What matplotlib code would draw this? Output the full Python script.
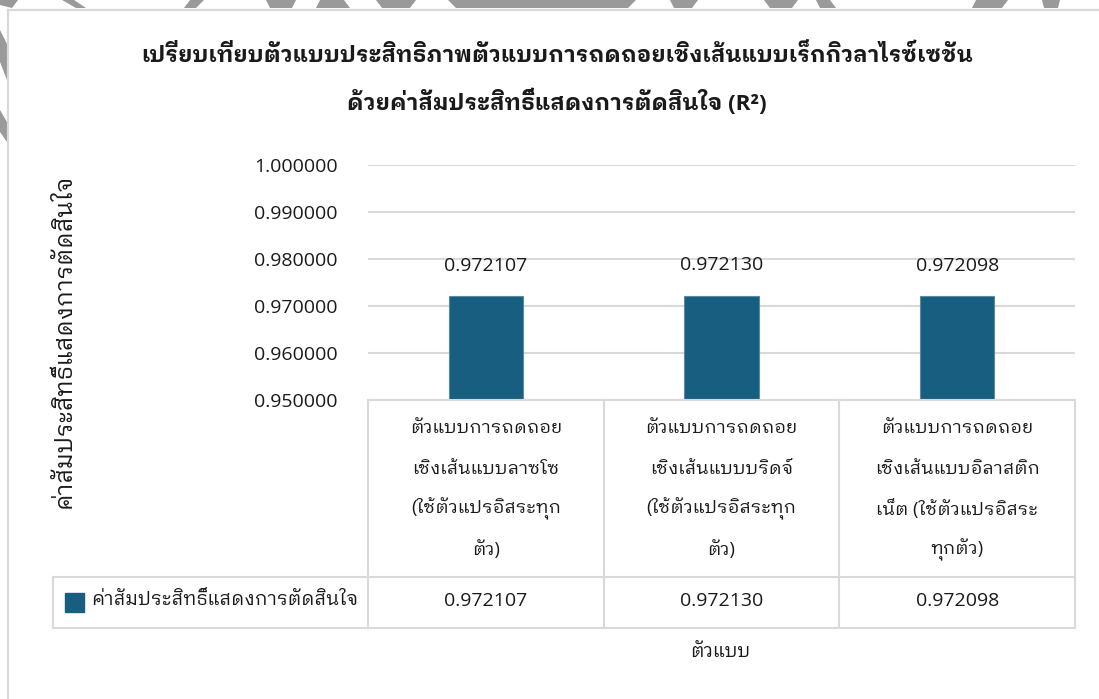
import matplotlib
matplotlib.use("Agg")
import matplotlib.pyplot as plt
import matplotlib.transforms as mtransforms
from matplotlib.lines import Line2D
from matplotlib.patches import Rectangle, Polygon
import numpy as np

plt.rcParams['font.family'] = ['Open Sans', 'IBM Plex Sans Thai Looped']

# data
models = [
    "ตัวแบบการถดถอย\nเชิงเส้นแบบลาซโซ\n(ใช้ตัวแปรอิสระทุก\nตัว)",
    "ตัวแบบการถดถอย\nเชิงเส้นแบบบริดจ์\n(ใช้ตัวแปรอิสระทุก\nตัว)",
    "ตัวแบบการถดถอย\nเชิงเส้นแบบอิลาสติก\nเน็ต (ใช้ตัวแปรอิสระ\nทุกตัว)",
]
r2 = [0.972107, 0.972130, 0.972098]
series_name = "ค่าสัมประสิทธิ์แสดงการตัดสินใจ"
title_lines = [
    "เปรียบเทียบตัวแบบประสิทธิภาพตัวแบบการถดถอยเชิงเส้นแบบเร็กกิวลาไรซ์เซชัน",
    "ด้วยค่าสัมประสิทธิ์แสดงการตัดสินใจ (R²)",
]
x_title = "ตัวแบบ"
y_title = "ค่าสัมประสิทธิ์แสดงการตัดสินใจ"

W, H = 1099, 699
bar_color = "#175e80"
line_color = "#d9d9d9"
text_color = "#1a1a1a"


def fx(x):
    return x / W


def fy(y):
    return 1 - y / H


fig = plt.figure(figsize=(W / 100, H / 100), dpi=100)
fig.patch.set_facecolor("white")

# bits of the page seal peeking out above / left of the frame
seal = [
    [(0, 0), (18, 0), (12, 8), (0, 5)],
    [(62, 0), (74, 0), (86, 8), (76, 8)],
    [(190, 0), (204, 0), (196, 8), (184, 8)],
    [(266, 0), (296, 0), (292, 8), (270, 8)],
    [(320, 0), (344, 0), (350, 8), (316, 8)],
    [(376, 0), (416, 0), (410, 8), (382, 8)],
    [(448, 0), (636, 0), (628, 8), (456, 8)],
    [(670, 0), (698, 0), (692, 8), (674, 8)],
    [(764, 0), (798, 0), (792, 8), (770, 8)],
    [(816, 0), (830, 0), (836, 8), (820, 8)],
    [(976, 0), (1008, 0), (1002, 8), (972, 8)],
    [(1042, 0), (1060, 0), (1058, 8), (1044, 8)],
    [(0, 30), (7, 44), (7, 80), (0, 62)],
    [(0, 110), (7, 122), (7, 142), (0, 132)],
]
for pts in seal:
    fig.add_artist(Polygon([(fx(a), fy(b)) for a, b in pts], closed=True,
                           transform=fig.transFigure, facecolor="#9a9a9a",
                           edgecolor="none"))

# chart frame
fig.add_artist(Line2D([fx(8), fx(8)], [fy(10), fy(699)], color=line_color,
                      lw=1.6, transform=fig.transFigure))
fig.add_artist(Line2D([fx(8), fx(1099)], [fy(10), fy(10)], color=line_color,
                      lw=1.6, transform=fig.transFigure))

ax = fig.add_axes([fx(368), fy(400), fx(1075) - fx(368), (400 - 165) / H])
x = np.arange(len(models))
ax.bar(x, r2, width=0.315, color=bar_color, edgecolor="#5b8aa3",
       linewidth=0.8, zorder=3)
ax.set_xlim(-0.5, len(models) - 0.5)
ax.set_ylim(0.95, 1.0)
ax.set_yticks(np.arange(0.95, 1.0001, 0.01))
ax.yaxis.set_major_formatter(matplotlib.ticker.FormatStrFormatter("%.6f"))
ax.set_xticks([])
ax.tick_params(axis="y", length=0, pad=22, labelsize=14, labelcolor=text_color)
ax.yaxis.grid(True, color=line_color, lw=1.5)
ax.set_axisbelow(True)
for s in ax.spines.values():
    s.set_visible(False)

for xi, v in zip(x, r2):
    ax.annotate(f"{v:.6f}", (xi, v), xytext=(0, 22), textcoords="offset points",
                ha="center", va="center", fontsize=14, color=text_color)

# data table under the axis
tr = mtransforms.blended_transform_factory(ax.transData, fig.transFigure)
bounds = np.arange(len(models) + 1) - 0.5
for b in bounds:
    fig.add_artist(Line2D([b, b], [fy(400), fy(628)], color=line_color, lw=1.5,
                          transform=tr, clip_on=False))
fig.add_artist(Line2D([bounds[0], bounds[-1]], [fy(400), fy(400)],
                      color=line_color, lw=1.5, transform=tr))
for yy in (577, 628):
    fig.add_artist(Line2D([fx(53), fx(1075)], [fy(yy), fy(yy)], color=line_color,
                          lw=1.5, transform=fig.transFigure))
fig.add_artist(Line2D([fx(53), fx(53)], [fy(577), fy(628)], color=line_color,
                      lw=1.5, transform=fig.transFigure))

for xi, name in zip(x, models):
    for k, line in enumerate(name.split("\n")):
        fig.text(xi, fy(428 + 40.5 * k), line, transform=tr, ha="center",
                 va="center", fontsize=13.2, color=text_color)

for xi, v in zip(x, r2):
    fig.text(xi, fy(601), f"{v:.6f}", transform=tr, ha="center", va="center",
             fontsize=14, color=text_color)

fig.add_artist(Rectangle((fx(65), fy(612)), fx(19), 19 / H, color=bar_color,
                         transform=fig.transFigure))
fig.text(fx(91), fy(600), series_name, ha="left", va="center", fontsize=13.6,
         color=text_color)

# titles
fig.text(fx(557), fy(55), title_lines[0], ha="center", va="center",
         fontsize=16.2, fontweight="bold", color=text_color)
fig.text(fx(557), fy(102), title_lines[1], ha="center", va="center",
         fontsize=16.2, fontweight="bold", color=text_color)
fig.text(fx(720), fy(652), x_title, ha="center", va="center", fontsize=13.5,
         color=text_color)
fig.text(fx(65), fy(341), y_title, ha="center", va="center", rotation=90,
         fontsize=17, color=text_color)

fig.savefig("out.png", dpi=100)
